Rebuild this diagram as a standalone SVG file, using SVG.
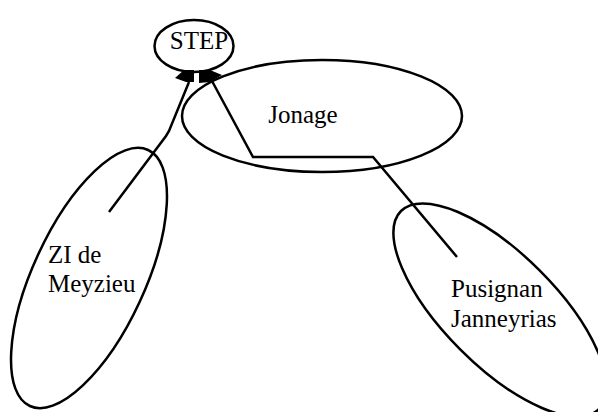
<svg xmlns="http://www.w3.org/2000/svg" width="598" height="412" viewBox="0 0 598 412">
<style>
.shape{fill:none;stroke:#000;stroke-width:2.5}
.lbl{font-family:"Liberation Serif","Times New Roman",serif;font-size:25px;fill:#000}
.conn{fill:none;stroke:#000;stroke-width:2.5;stroke-linejoin:miter}
.head{fill:#000;stroke:none}
</style>
<rect width="598" height="412" fill="#fff"/>
<g id="node-meyzieu">
<ellipse class="shape" cx="89" cy="278" rx="141" ry="56" transform="rotate(-65.2 89 278)"/>
<text class="lbl" x="48" y="263">ZI de</text>
<text class="lbl" x="48" y="292">Meyzieu</text>
</g>
<g id="node-jonage">
<ellipse class="shape" cx="322" cy="116" rx="140" ry="56"/>
<text class="lbl" x="303" y="123" text-anchor="middle">Jonage</text>
</g>
<g id="node-pusignan">
<ellipse class="shape" cx="500" cy="310" rx="140" ry="56" transform="rotate(45 500 310)"/>
<text class="lbl" x="451" y="297">Pusignan</text>
<text class="lbl" x="451" y="327">Janneyrias</text>
</g>
<g id="node-step">
<ellipse class="shape" cx="194" cy="46" rx="39.5" ry="26"/>
<text class="lbl" x="199" y="49" text-anchor="middle">STEP</text>
</g>
<g id="connectors">
<polyline class="conn" points="109,212 166,136 169,131 189,82"/>
<polygon class="head" points="175,78 184,70 194,70 194,82 186,82"/>
<polyline class="conn" points="457,257 373,157 253,157 212,81"/>
<polygon class="head" points="199,70 210,70 222,75 210,82 199,83"/>
</g>
</svg>
